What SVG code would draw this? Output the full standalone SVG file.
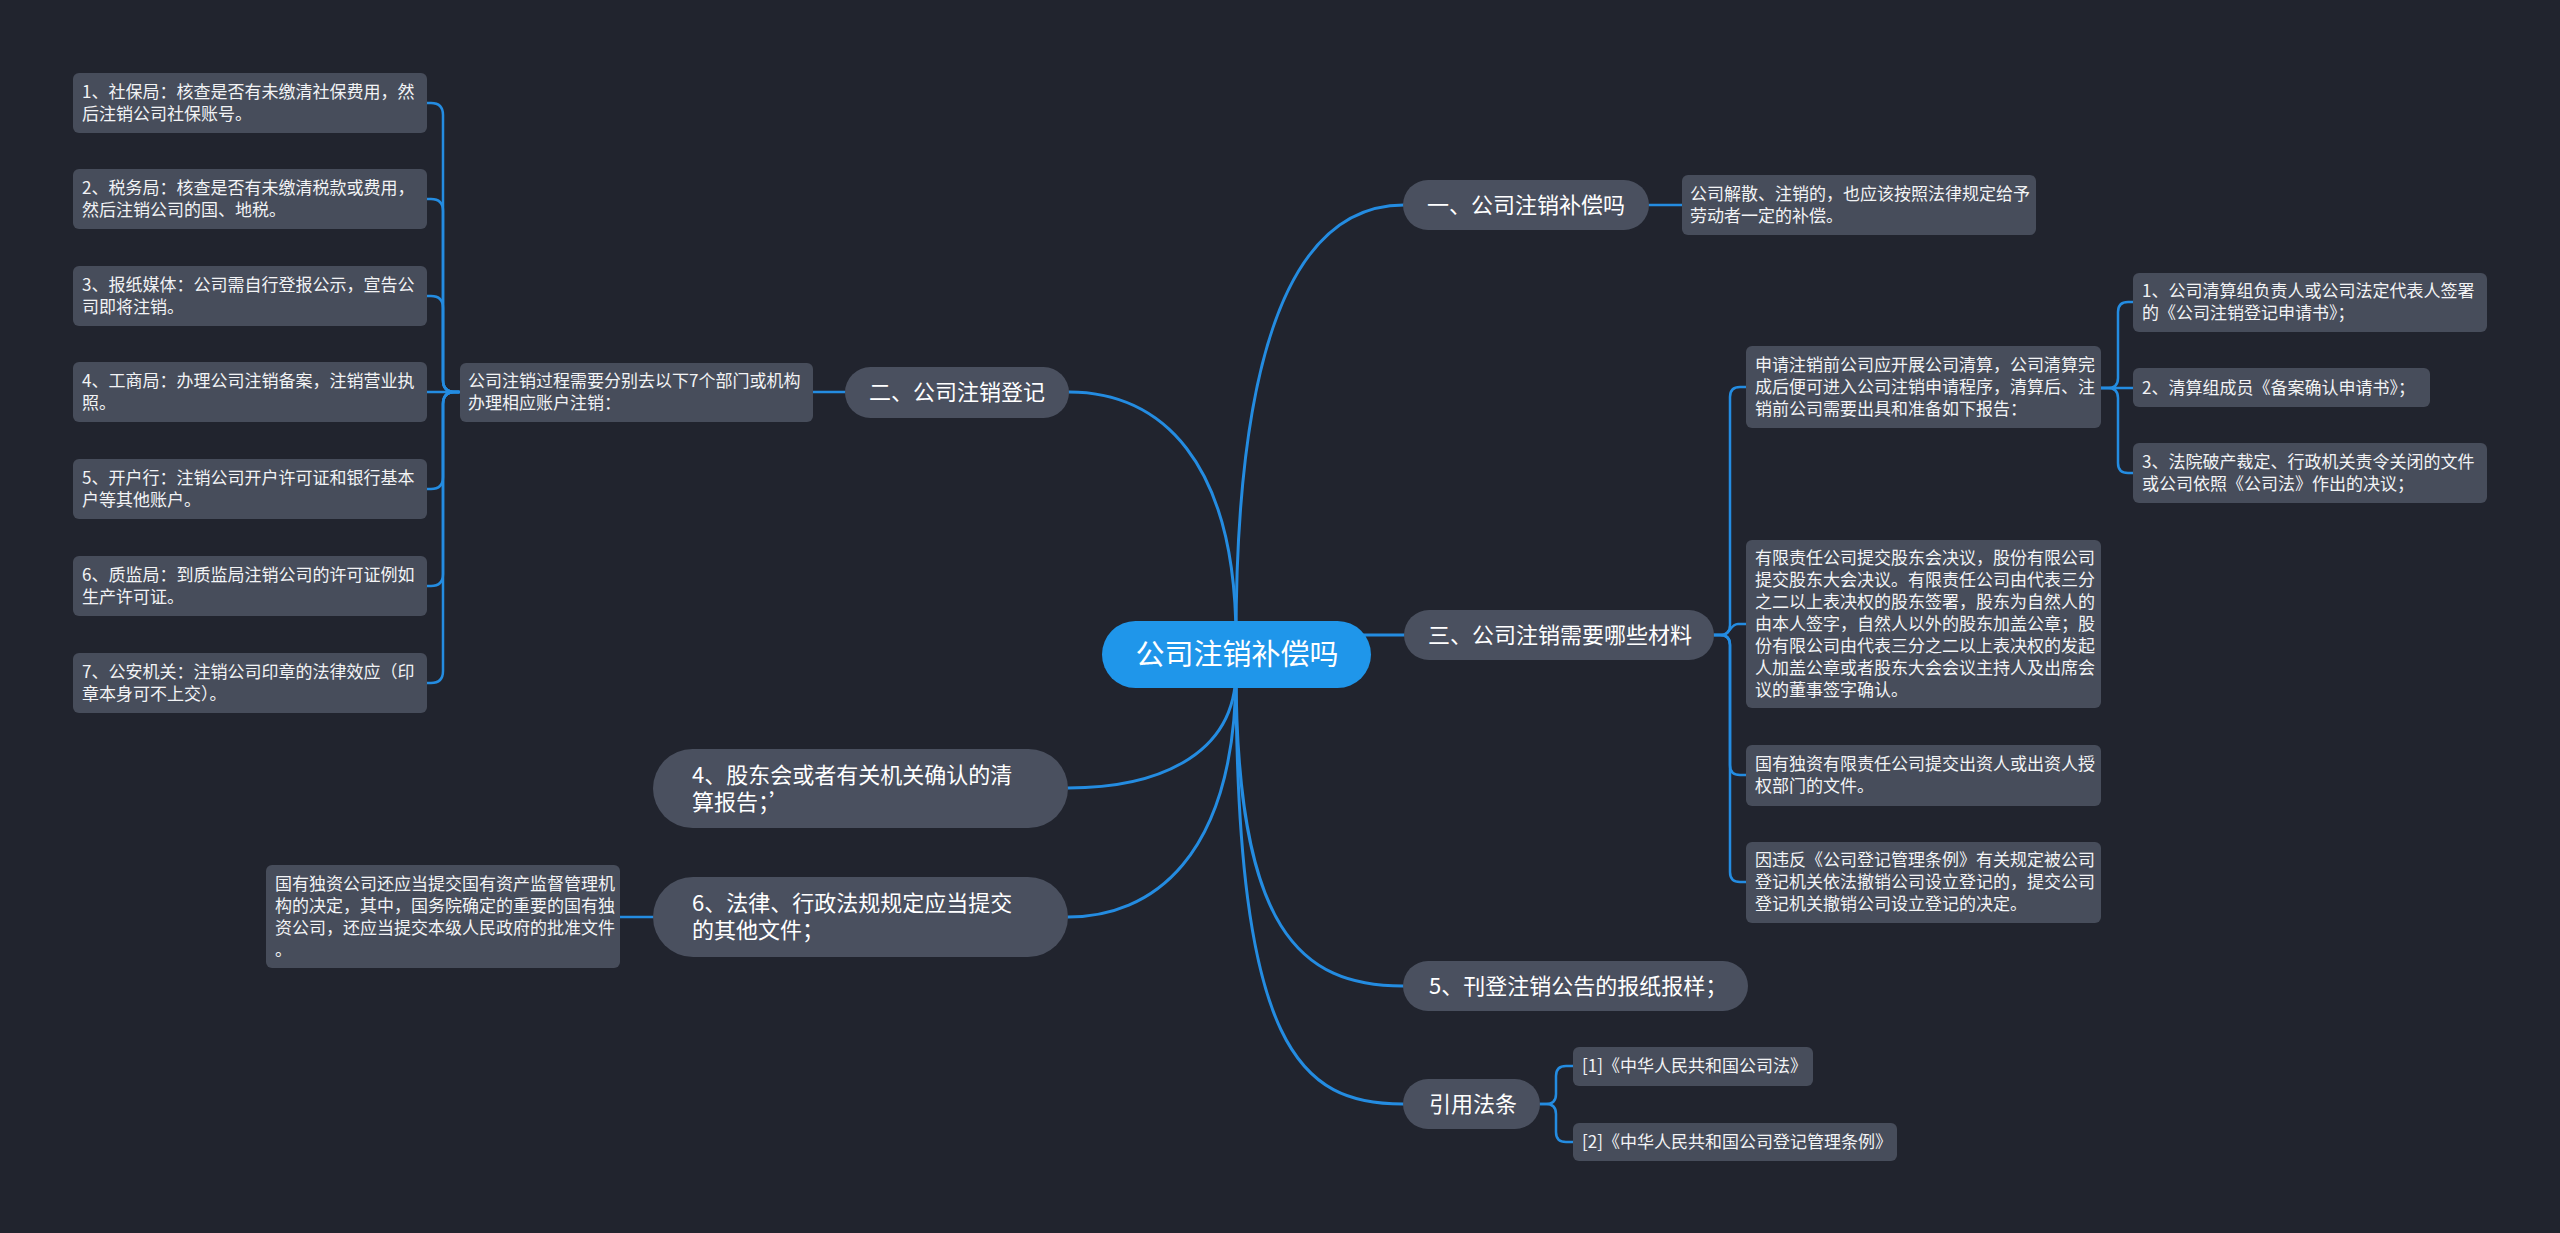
<svg xmlns="http://www.w3.org/2000/svg" width="2560" height="1233" viewBox="0 0 2560 1233">
<style>
text{font-family:"Noto Sans CJK SC","Microsoft YaHei",sans-serif;fill:#ffffff}
.pill{fill:#4a505f}
.leaf{fill:#474d5b}
.t22{font-size:22px}
.t17{font-size:17px;fill:#f2f3f5}
.c{fill:none;stroke:#248ce1;stroke-width:2.5;stroke-linecap:round;stroke-linejoin:round}
.cm{fill:none;stroke:#248ce1;stroke-width:3;stroke-linecap:round}
</style>
<rect width="2560" height="1233" fill="#21242e"/>
<g id="connectors">
<path class="cm" d="M1236,640 C1236,460 1160,392 1069,392"/>
<path class="cm" d="M1236,640 C1236,330 1300,205 1404,205"/>
<path class="cm" d="M1330,635 H1404"/>
<path class="cm" d="M1236,670 C1236,760 1150,788 1068,788"/>
<path class="cm" d="M1236,670 C1236,860 1150,917 1068,917"/>
<path class="cm" d="M1236,670 C1236,930 1300,986 1403,986"/>
<path class="cm" d="M1236,670 C1236,1050 1300,1104 1403,1104"/>
<path class="c" d="M1649,205 H1682"/>
<path class="c" d="M845,392 H813"/>
<path class="c" d="M653,917 H620"/>
<path class="c" d="M459,392 H455 Q443,392 443,380 V115 Q443,103 431,103 H427"/>
<path class="c" d="M459,392 H455 Q443,392 443,380 V211 Q443,199 431,199 H427"/>
<path class="c" d="M459,392 H455 Q443,392 443,380 V308 Q443,296 431,296 H427"/>
<path class="c" d="M459,392 H427"/>
<path class="c" d="M459,392 H455 Q443,392 443,404 V477 Q443,489 431,489 H427"/>
<path class="c" d="M459,392 H455 Q443,392 443,404 V574 Q443,586 431,586 H427"/>
<path class="c" d="M459,392 H455 Q443,392 443,404 V671 Q443,683 431,683 H427"/>
<path class="c" d="M1714,635 H1720 Q1730,635 1730,625 V397 Q1730,387 1740,387 H1746"/>
<path class="c" d="M1714,635 H1722 C1730,635 1730,624 1738,624 H1746"/>
<path class="c" d="M1714,635 H1720 Q1730,635 1730,645 V765 Q1730,775 1740,775 H1746"/>
<path class="c" d="M1714,635 H1720 Q1730,635 1730,645 V872 Q1730,882 1740,882 H1746"/>
<path class="c" d="M2101,388 H2108 Q2118,388 2118,378 V312 Q2118,302 2128,302 H2133"/>
<path class="c" d="M2101,388 H2133"/>
<path class="c" d="M2101,388 H2108 Q2118,388 2118,398 V463 Q2118,473 2128,473 H2133"/>
<path class="c" d="M1540,1104 H1546 Q1556,1104 1556,1094 V1076 Q1556,1066 1566,1066 H1573"/>
<path class="c" d="M1540,1104 H1546 Q1556,1104 1556,1114 V1132 Q1556,1142 1566,1142 H1573"/>
</g>
<g id="root">
<rect x="1102" y="621" width="269" height="67" rx="33.5" fill="#1f96ea"/>
<text x="1237" y="665" font-size="29" text-anchor="middle">公司注销补偿吗</text>
</g>
<g id="n1">
<rect class="pill" x="1403" y="180" width="246" height="50" rx="25"/>
<text class="t22" x="1427" y="213">一、公司注销补偿吗</text>
</g>
<g id="n1a">
<rect class="leaf" x="1682" y="175" width="354" height="60" rx="6"/>
<text class="t17" x="1690"><tspan x="1690" y="200">公司解散、注销的，也应该按照法律规定给予</tspan><tspan x="1690" y="222">劳动者一定的补偿。</tspan></text>
</g>
<g id="n2">
<rect class="pill" x="845" y="367" width="224" height="51" rx="25.5"/>
<text class="t22" x="869" y="400">二、公司注销登记</text>
</g>
<g id="n2a">
<rect class="leaf" x="460" y="363" width="353" height="59" rx="6"/>
<text class="t17"><tspan x="468" y="387">公司注销过程需要分别去以下7个部门或机构</tspan><tspan x="468" y="409">办理相应账户注销：</tspan></text>
</g>
<g id="n2a1">
<rect class="leaf" x="73" y="73" width="354" height="60" rx="6"/>
<text class="t17"><tspan x="82" y="98">1、社保局：核查是否有未缴清社保费用，然</tspan><tspan x="82" y="120">后注销公司社保账号。</tspan></text>
</g>
<g id="n2a2">
<rect class="leaf" x="73" y="169" width="354" height="60" rx="6"/>
<text class="t17"><tspan x="82" y="194">2、税务局：核查是否有未缴清税款或费用，</tspan><tspan x="82" y="216">然后注销公司的国、地税。</tspan></text>
</g>
<g id="n2a3">
<rect class="leaf" x="73" y="266" width="354" height="60" rx="6"/>
<text class="t17"><tspan x="82" y="291">3、报纸媒体：公司需自行登报公示，宣告公</tspan><tspan x="82" y="313">司即将注销。</tspan></text>
</g>
<g id="n2a4">
<rect class="leaf" x="73" y="362" width="354" height="60" rx="6"/>
<text class="t17"><tspan x="82" y="387">4、工商局：办理公司注销备案，注销营业执</tspan><tspan x="82" y="409">照。</tspan></text>
</g>
<g id="n2a5">
<rect class="leaf" x="73" y="459" width="354" height="60" rx="6"/>
<text class="t17"><tspan x="82" y="484">5、开户行：注销公司开户许可证和银行基本</tspan><tspan x="82" y="506">户等其他账户。</tspan></text>
</g>
<g id="n2a6">
<rect class="leaf" x="73" y="556" width="354" height="60" rx="6"/>
<text class="t17"><tspan x="82" y="581">6、质监局：到质监局注销公司的许可证例如</tspan><tspan x="82" y="603">生产许可证。</tspan></text>
</g>
<g id="n2a7">
<rect class="leaf" x="73" y="653" width="354" height="60" rx="6"/>
<text class="t17"><tspan x="82" y="678">7、公安机关：注销公司印章的法律效应（印</tspan><tspan x="82" y="700">章本身可不上交）。</tspan></text>
</g>
<g id="n3">
<rect class="pill" x="1404" y="610" width="310" height="50" rx="25"/>
<text class="t22" x="1428" y="643">三、公司注销需要哪些材料</text>
</g>
<g id="n3a">
<rect class="leaf" x="1746" y="346" width="355" height="82" rx="6"/>
<text class="t17"><tspan x="1755" y="371">申请注销前公司应开展公司清算，公司清算完</tspan><tspan x="1755" y="393">成后便可进入公司注销申请程序，清算后、注</tspan><tspan x="1755" y="415">销前公司需要出具和准备如下报告：</tspan></text>
</g>
<g id="n3a1">
<rect class="leaf" x="2133" y="273" width="354" height="59" rx="6"/>
<text class="t17"><tspan x="2142" y="297">1、公司清算组负责人或公司法定代表人签署</tspan><tspan x="2142" y="319">的《公司注销登记申请书》；</tspan></text>
</g>
<g id="n3a2">
<rect class="leaf" x="2133" y="368" width="297" height="39" rx="6"/>
<text class="t17" x="2142" y="394">2、清算组成员《备案确认申请书》；</text>
</g>
<g id="n3a3">
<rect class="leaf" x="2133" y="443" width="354" height="60" rx="6"/>
<text class="t17"><tspan x="2142" y="468">3、法院破产裁定、行政机关责令关闭的文件</tspan><tspan x="2142" y="490">或公司依照《公司法》作出的决议；</tspan></text>
</g>
<g id="n3b">
<rect class="leaf" x="1746" y="540" width="355" height="168" rx="6"/>
<text class="t17"><tspan x="1755" y="564">有限责任公司提交股东会决议，股份有限公司</tspan><tspan x="1755" y="586">提交股东大会决议。有限责任公司由代表三分</tspan><tspan x="1755" y="608">之二以上表决权的股东签署，股东为自然人的</tspan><tspan x="1755" y="630">由本人签字，自然人以外的股东加盖公章；股</tspan><tspan x="1755" y="652">份有限公司由代表三分之二以上表决权的发起</tspan><tspan x="1755" y="674">人加盖公章或者股东大会会议主持人及出席会</tspan><tspan x="1755" y="696">议的董事签字确认。</tspan></text>
</g>
<g id="n3c">
<rect class="leaf" x="1746" y="745" width="355" height="61" rx="6"/>
<text class="t17"><tspan x="1755" y="770">国有独资有限责任公司提交出资人或出资人授</tspan><tspan x="1755" y="792">权部门的文件。</tspan></text>
</g>
<g id="n3d">
<rect class="leaf" x="1746" y="842" width="355" height="81" rx="6"/>
<text class="t17"><tspan x="1755" y="866">因违反《公司登记管理条例》有关规定被公司</tspan><tspan x="1755" y="888">登记机关依法撤销公司设立登记的，提交公司</tspan><tspan x="1755" y="910">登记机关撤销公司设立登记的决定。</tspan></text>
</g>
<g id="n4">
<rect class="pill" x="653" y="749" width="415" height="79" rx="39.5"/>
<text class="t22"><tspan x="692" y="783">4、股东会或者有关机关确认的清</tspan><tspan x="692" y="810">算报告；’</tspan></text>
</g>
<g id="n6">
<rect class="pill" x="653" y="877" width="415" height="80" rx="40"/>
<text class="t22"><tspan x="692" y="911">6、法律、行政法规规定应当提交</tspan><tspan x="692" y="938">的其他文件；</tspan></text>
</g>
<g id="n6a">
<rect class="leaf" x="266" y="865" width="354" height="103" rx="6"/>
<text class="t17"><tspan x="275" y="890">国有独资公司还应当提交国有资产监督管理机</tspan><tspan x="275" y="912">构的决定，其中，国务院确定的重要的国有独</tspan><tspan x="275" y="934">资公司，还应当提交本级人民政府的批准文件</tspan><tspan x="275" y="956">。</tspan></text>
</g>
<g id="n5">
<rect class="pill" x="1403" y="961" width="345" height="50" rx="25"/>
<text class="t22" x="1429" y="994">5、刊登注销公告的报纸报样；</text>
</g>
<g id="n7">
<rect class="pill" x="1403" y="1079" width="137" height="50" rx="25"/>
<text class="t22" x="1429" y="1112">引用法条</text>
</g>
<g id="n7a">
<rect class="leaf" x="1573" y="1047" width="240" height="39" rx="6"/>
<text class="t17" x="1582" y="1072">[1]《中华人民共和国公司法》</text>
</g>
<g id="n7b">
<rect class="leaf" x="1573" y="1123" width="324" height="38" rx="6"/>
<text class="t17" x="1582" y="1148">[2]《中华人民共和国公司登记管理条例》</text>
</g>
</svg>
